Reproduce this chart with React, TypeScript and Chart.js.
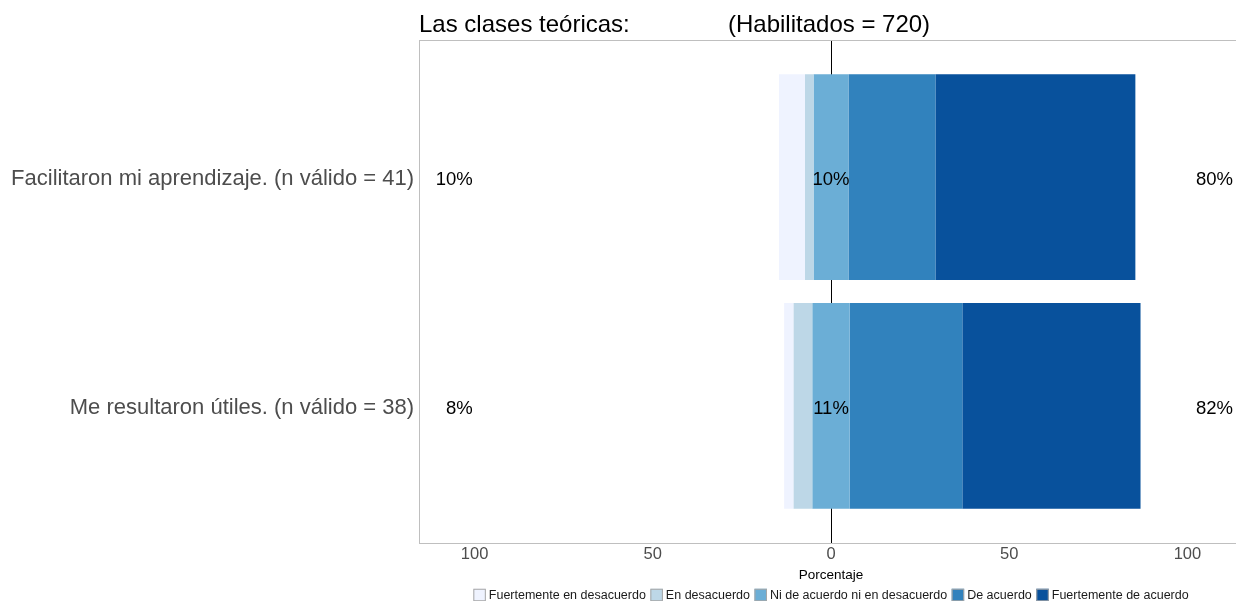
import React, { useEffect, useRef } from "react";
import { Chart, registerables } from "chart.js";

Chart.register(...registerables);

const titleLeft = "Las clases teóricas:";
const titleRight = "(Habilitados = 720)";
const categories = [
  "Facilitaron mi aprendizaje. (n válido = 41)",
  "Me resultaron útiles. (n válido = 38)",
];
const levels = [
  "Fuertemente en desacuerdo",
  "En desacuerdo",
  "Ni de acuerdo ni en desacuerdo",
  "De acuerdo",
  "Fuertemente de acuerdo",
];
const levelColors = ["#EFF3FF", "#BDD7E7", "#6BAED6", "#3182BD", "#08519C"];

// percentages per category
const fuertementeDesacuerdo = [7.3, 2.6];
const enDesacuerdo = [2.4, 5.3];
const neutral = [9.8, 10.5];
const deAcuerdo = [24.4, 31.6];
const fuertementeAcuerdo = [56.1, 50.0];

const lowLabels = ["10%", "8%"];
const neutralLabels = ["10%", "11%"];
const highLabels = ["80%", "82%"];

const xTickValues = [-100, -50, 0, 50, 100];
const xMin = -115.6;
const xMax = 115.6;
const lowLabelPos = -100.5;
const highLabelPos = 112.8;
const subtitlePos = -28.9;

const FONT = "'Liberation Sans', Arial, Helvetica, sans-serif";

function buildDatasets() {
  const ranges: number[][][] = [[], [], [], [], []];
  categories.forEach((_, i) => {
    const a = -(fuertementeDesacuerdo[i] + enDesacuerdo[i] + neutral[i] / 2);
    const b = a + fuertementeDesacuerdo[i];
    const c = b + enDesacuerdo[i];
    const d = c + neutral[i];
    const e = d + deAcuerdo[i];
    const f = e + fuertementeAcuerdo[i];
    ranges[0].push([a, b]);
    ranges[1].push([b, c]);
    ranges[2].push([c, d]);
    ranges[3].push([d, e]);
    ranges[4].push([e, f]);
  });
  return levels.map((lvl, k) => ({
    label: lvl,
    data: ranges[k].map((r, i) => ({ x: r, y: i + 1 })),
    backgroundColor: levelColors[k],
    borderWidth: 0,
    grouped: false,
    categoryPercentage: 0.9,
    barPercentage: 1.0,
  }));
}

const textPlugin = {
  id: "likertText",
  afterDraw(chart: any) {
    const { ctx, chartArea, scales } = chart;
    const xs = scales.x;
    const ys = scales.y;
    ctx.save();
    // top border
    ctx.strokeStyle = "#bfbfbf";
    ctx.lineWidth = 1;
    ctx.beginPath();
    ctx.moveTo(chartArea.left, chartArea.top + 0.5);
    ctx.lineTo(chartArea.right, chartArea.top + 0.5);
    ctx.stroke();
    // title
    ctx.fillStyle = "#000";
    ctx.font = `24px ${FONT}`;
    ctx.textBaseline = "middle";
    ctx.textAlign = "left";
    ctx.fillText(titleLeft, chartArea.left, 25.5);
    ctx.fillText(titleRight, xs.getPixelForValue(subtitlePos), 25.5);
    // percentage labels
    ctx.font = `18.5px ${FONT}`;
    categories.forEach((_, i) => {
      const y = ys.getPixelForValue(i + 1) + 3;
      ctx.textAlign = "right";
      ctx.fillText(lowLabels[i], xs.getPixelForValue(lowLabelPos), y);
      ctx.textAlign = "center";
      ctx.fillText(neutralLabels[i], xs.getPixelForValue(0), y);
      ctx.textAlign = "right";
      ctx.fillText(highLabels[i], xs.getPixelForValue(highLabelPos), y);
    });
    // legend
    const box = 12.5;
    const gapText = 3;
    const gapItem = 4.5;
    ctx.font = `12.5px ${FONT}`;
    const widths = levels.map((l) => ctx.measureText(l).width);
    const total =
      widths.reduce((s, w) => s + w + box + gapText, 0) + gapItem * (levels.length - 1);
    let x = xs.getPixelForValue(0) - total / 2;
    const ly = chartArea.bottom + 52;
    ctx.textAlign = "left";
    levels.forEach((l, k) => {
      ctx.fillStyle = levelColors[k];
      ctx.fillRect(x, ly - box / 2, box, box);
      ctx.strokeStyle = "#a6a6a6";
      ctx.lineWidth = 1;
      ctx.strokeRect(x + 0.5, ly - box / 2 + 0.5, box - 1, box - 1);
      ctx.fillStyle = "#1a1a1a";
      ctx.fillText(l, x + box + gapText, ly + 0.5);
      x += box + gapText + widths[k] + gapItem;
    });
    ctx.restore();
  },
};

export default function App() {
  const ref = useRef<HTMLCanvasElement | null>(null);
  useEffect(() => {
    if (!ref.current) return;
    Chart.defaults.font.family = FONT;
    const chart = new Chart(ref.current, {
      type: "bar",
      data: { datasets: buildDatasets() as any },
      options: {
        animation: false,
        responsive: false,
        indexAxis: "y",
        layout: { padding: { top: 40, left: 0, right: 0, bottom: 18 } },
        scales: {
          x: {
            type: "linear",
            min: xMin,
            max: xMax,
            afterBuildTicks: (s: any) => {
              s.ticks = xTickValues.map((v) => ({ value: v }));
            },
            ticks: {
              callback: (v: any) => String(Math.abs(Number(v))),
              color: "#4d4d4d",
              font: { size: 16.5 },
              padding: 2,
              maxRotation: 0,
              autoSkip: false,
            },
            grid: {
              drawTicks: false,
              color: (c: any) => (c.tick && c.tick.value === 0 ? "#000000" : "rgba(0,0,0,0)"),
              lineWidth: 1,
            },
            border: { display: true, color: "#bfbfbf", width: 1 },
            title: {
              display: true,
              text: "Porcentaje",
              color: "#000",
              font: { size: 13.5 },
              padding: { top: 0, bottom: 0 },
            },
          },
          y: {
            type: "linear",
            reverse: true,
            offset: false,
            min: 0.4,
            max: 2.6,
            afterBuildTicks: (s: any) => {
              s.ticks = categories.map((_, i) => ({ value: i + 1 }));
            },
            afterFit: (s: any) => {
              s.width = 419;
            },
            ticks: {
              callback: (v: any) => categories[Number(v) - 1] ?? "",
              color: "#4d4d4d",
              font: { size: 22 },
              padding: 5,
              labelOffset: 2,
              autoSkip: false,
            },
            grid: { display: false, drawTicks: false, offset: false },
            border: { display: true, color: "#bfbfbf", width: 1 },
          },
        },
        plugins: {
          legend: { display: false },
          tooltip: { enabled: false },
        },
      },
      plugins: [textPlugin],
    });
    return () => chart.destroy();
  }, []);
  return (
    <div style={{ position: "absolute", left: 0, top: 0, width: 1236, height: 601, overflow: "hidden", background: "#fff" }}>
      <canvas ref={ref} width={1243} height={601} style={{ display: "block" }} />
    </div>
  );
}
